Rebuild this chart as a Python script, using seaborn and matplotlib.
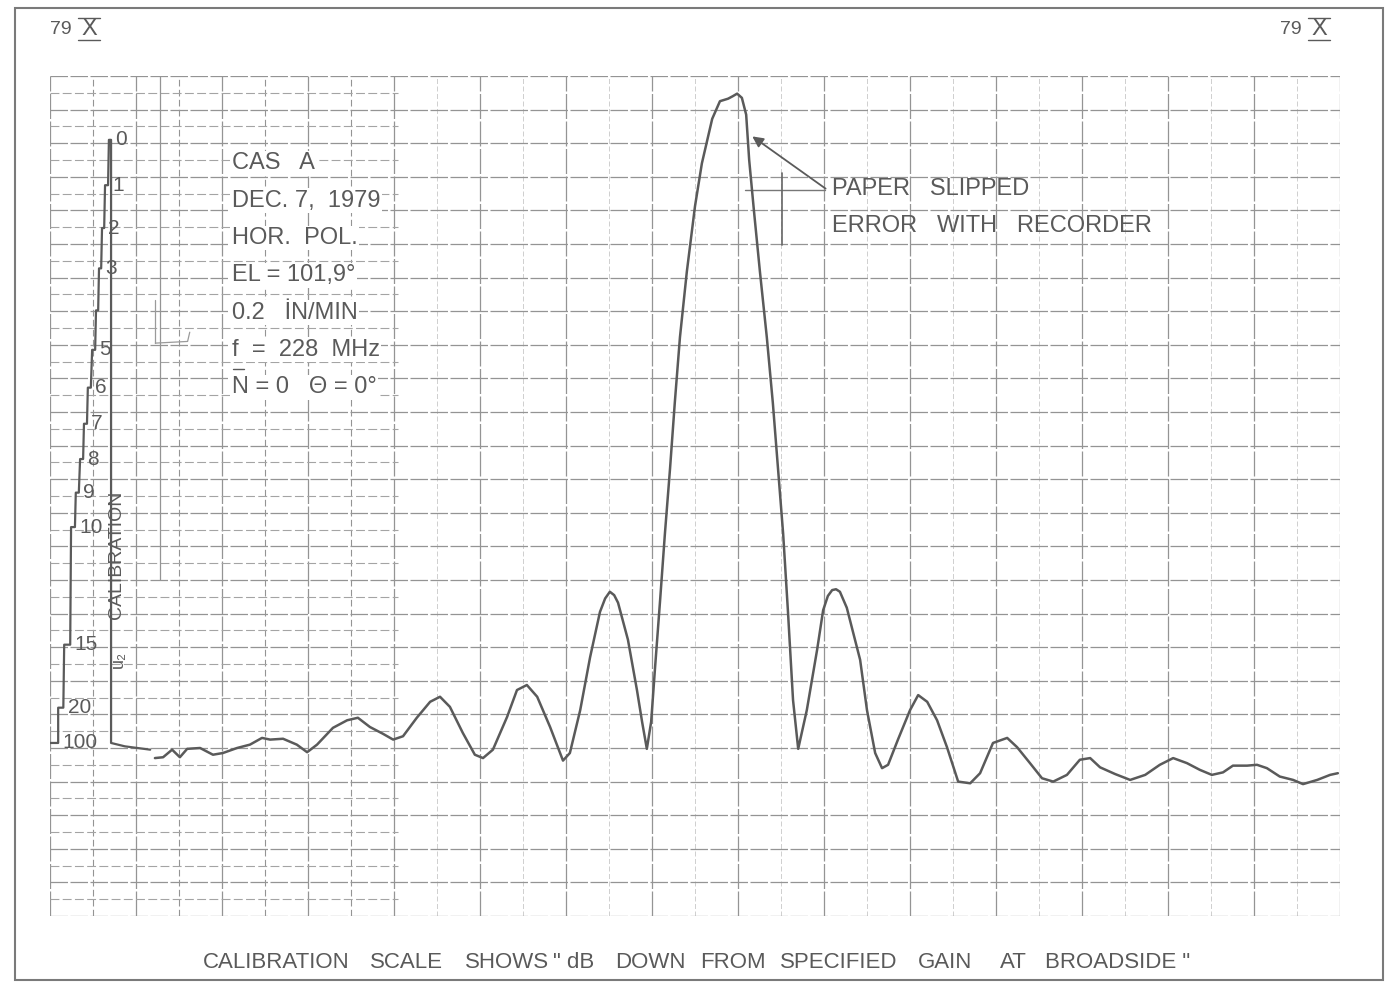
import numpy as np
import pandas as pd
import matplotlib
matplotlib.use("Agg")
import matplotlib.pyplot as plt
import seaborn as sns
from matplotlib.lines import Line2D
from matplotlib.patches import Rectangle

# chart position in minor divisions (0..30) and pen deflection in % of full scale
trace_x = [2.44, 2.63, 2.84, 3.02, 3.19, 3.49, 3.79, 4.02, 4.35, 4.65, 4.93, 5.12,
           5.42, 5.74, 5.98, 6.21, 6.58, 6.91, 7.16, 7.44, 7.74, 7.98, 8.21, 8.53,
           8.84, 9.07, 9.30, 9.60, 9.88, 10.07, 10.30, 10.63, 10.86, 11.09, 11.33,
           11.63, 11.93, 12.09, 12.33, 12.56, 12.79, 12.91, 13.02, 13.12, 13.21, 13.44, 13.65,
           13.77, 13.88, 13.98, 14.07, 14.19, 14.30, 14.42, 14.53, 14.65, 14.81,
           15.00, 15.16, 15.40, 15.58, 15.77, 15.88, 15.98, 16.09, 16.19, 16.26,
           16.37, 16.51, 16.67, 16.81, 16.93, 17.05, 17.16, 17.28, 17.40, 17.60,
           17.84, 17.98, 18.09, 18.19, 18.28, 18.37, 18.53, 18.84, 19.00, 19.19, 19.35, 19.49,
           19.72, 20.00, 20.19, 20.40, 20.63, 20.86, 21.12, 21.40, 21.63, 21.93,
           22.26, 22.49, 22.79, 23.07, 23.33, 23.65, 23.95, 24.19, 24.42, 24.77,
           25.12, 25.47, 25.81, 26.12, 26.44, 26.74, 27.02, 27.28, 27.51, 27.84,
           28.07, 28.30, 28.60, 28.91, 29.14, 29.47, 29.77, 29.95]
trace_y = [18.8, 18.9, 19.8, 18.9, 19.9, 20.0, 19.2, 19.4, 20.0, 20.4, 21.2, 21.0,
           21.1, 20.4, 19.5, 20.4, 22.4, 23.3, 23.6, 22.5, 21.7, 21.0, 21.4, 23.6,
           25.5, 26.1, 24.9, 21.8, 19.2, 18.8, 19.8, 23.7, 26.9, 27.5, 26.1,
           22.5, 18.5, 19.4, 24.5, 30.8, 36.2, 37.8, 38.6, 38.2, 37.3, 32.9, 26.9,
           23.1, 19.9, 23.1, 29.5, 37.7, 45.5, 53.3, 61.1, 68.9, 76.7,
           84.5, 89.6, 94.9, 97.0, 97.3, 97.6, 97.9, 97.4, 95.4, 90.0,
           84.0, 76.7, 68.9, 61.1, 53.3, 45.5, 36.4, 25.7, 19.9, 24.5,
           31.7, 36.4, 38.1, 38.8, 38.9, 38.6, 36.7, 30.5, 24.5, 19.4, 17.6, 18.0,
           21.0, 24.5, 26.3, 25.5, 23.3, 20.1, 16.0, 15.8, 17.0, 20.6,
           21.2, 20.1, 18.2, 16.4, 16.0, 16.8, 18.6, 18.8, 17.7, 16.9,
           16.2, 16.8, 18.0, 18.8, 18.2, 17.4, 16.8, 17.1, 17.9, 17.9,
           18.0, 17.6, 16.6, 16.2, 15.7, 16.2, 16.8, 17.0]

# calibration staircase: dB level, pen deflection, hold start / end
cal_db = [100, 20, 15, 10, 9, 8, 7, 6, 5, 4, 3, 2, 1, 0]
cal_y = [20.6, 24.8, 32.3, 46.3, 50.4, 54.4, 58.6, 62.9, 67.4, 72.1, 77.1, 81.9, 87.0, 92.4]
cal_on = [0.00, 0.19, 0.33, 0.49, 0.60, 0.70, 0.79, 0.88, 0.98, 1.07, 1.14, 1.21, 1.28, 1.37]
cal_off = [0.19, 0.31, 0.47, 0.58, 0.67, 0.77, 0.86, 0.95, 1.05, 1.12, 1.19, 1.26, 1.35, 1.42]
cal_return_x = [1.42, 1.74, 2.33]
cal_return_y = [20.6, 20.2, 19.8]

info_lines = ["CAS   A", "DEC. 7,  1979", "HOR.  POL.", "EL = 101,9°",
              "0.2   İN/MIN", "f  =  228  MHz", "N = 0   Θ = 0°"]
note_lines = ["PAPER   SLIPPED", "ERROR   WITH   RECORDER"]
caption_words = ["CALIBRATION", "SCALE", "SHOWS", '" dB', "DOWN", "FROM",
                 "SPECIFIED", "GAIN", "AT", 'BROADSIDE "']
caption_px = [203, 370, 465, 553, 615, 700, 780, 918, 1000, 1045]

INK = "#5a5a5a"
GRID = "#949494"
W, H = 1387, 985

sns.set_theme(style="white")
plt.rcParams["font.family"] = ["Liberation Sans", "DejaVu Sans"]

fig = plt.figure(figsize=(W / 100, H / 100), dpi=100)
fig.patch.set_facecolor("white")
ax = fig.add_axes([50 / W, (H - 916) / H, 1290 / W, 840 / H])
ax.set_xlim(0, 30)
ax.set_ylim(0, 100)
for s in ax.spines.values():
    s.set_visible(False)
ax.set_xticks([])
ax.set_yticks([])

# chart paper grid
for xv in np.arange(0, 31, 2):
    ax.axvline(xv, color=GRID, lw=0.9, ls=(0, (20, 2)), zorder=1)
for xv in np.arange(1, 30, 2):
    left = xv < 8.5
    ax.axvline(xv, color=GRID if left else "#c8c8c8", lw=0.8 if left else 0.6,
               ls=(0, (6, 3)), zorder=1)
for yv in np.arange(0, 101, 4):
    ax.axhline(yv, color=GRID, lw=0.9, ls=(0, (14, 2)), zorder=1)
ax.hlines(np.arange(2, 100, 4), 0, 8.1, color="#a4a4a4", lw=0.8, ls=(0, (8, 3)), zorder=1)
ax.vlines(2.56, 40, 100, color=GRID, lw=0.9, zorder=1)
ax.plot([2.45, 3.2, 3.25], [68.2, 68.4, 69.5], color="#9a9a9a", lw=0.9)
ax.plot([2.45, 2.45], [68.2, 73.3], color="#9a9a9a", lw=0.9)

# calibration staircase
sx, sy = [], []
for on, off, yv in zip(cal_on, cal_off, cal_y):
    sx += [on, off]
    sy += [yv, yv]
sx += cal_return_x
sy += cal_return_y
steps = pd.DataFrame({"x": sx, "y": sy})
sns.lineplot(data=steps, x="x", y="y", sort=False, estimator=None, ax=ax,
             color=INK, lw=1.6, zorder=3)
for db, yv, off in zip(cal_db, cal_y, cal_off):
    if db == 4:
        continue
    ax.text(off + 0.1, yv, str(db), ha="left", va="center", fontsize=15,
            color=INK, zorder=4)
ax.text(1.55, 43.0, "CALIBRATION", rotation=90, ha="center", va="center",
        fontsize=14, color=INK)
ax.text(1.58, 30.5, "u₂", rotation=90, ha="center", va="center",
        fontsize=13, color=INK)

# antenna pattern trace
pattern = pd.DataFrame({"x": trace_x, "y": trace_y})
sns.lineplot(data=pattern, x="x", y="y", sort=False, estimator=None, ax=ax,
             color=INK, lw=1.8, zorder=3)

# text block
for i, line in enumerate(info_lines):
    ax.text(4.23, 89.6 - i * 4.44, line, ha="left", va="center", fontsize=17,
            color=INK, bbox=dict(fc="white", ec="none", pad=1.0))
ax.plot([4.25, 4.50], [65.1, 65.1], color=INK, lw=1.0, zorder=5)

# paper slipped note
for i, line in enumerate(note_lines):
    ax.text(18.19, 86.5 - i * 4.4, line, ha="left", va="center", fontsize=17,
            color=INK)
ax.annotate("", xy=(16.28, 93.0), xytext=(18.09, 86.4),
            arrowprops=dict(arrowstyle="-|>", color=INK, lw=1.3, mutation_scale=16))
ax.plot([16.16, 18.02], [86.4, 86.4], color="#777777", lw=1.0)
ax.plot([17.02, 17.02], [88.5, 79.9], color="#666666", lw=1.2)

ax.set_xlabel("")
ax.set_ylabel("")

# sheet border, corner marks and caption
fig.add_artist(Rectangle((15 / W, 1 - 980 / H), 1368 / W, 972 / H, transform=fig.transFigure,
                         fill=False, ec="#7a7a7a", lw=1.5))
for x0 in (50, 1280):
    fig.text(x0 / W, 1 - 29 / H, "79", ha="left", va="center", fontsize=14, color=INK)
    fig.text((x0 + 39) / W, 1 - 29 / H, "X", ha="center", va="center", fontsize=17, color=INK)
    for yy in (18, 40):
        fig.add_artist(Line2D([(x0 + 28) / W, (x0 + 50) / W], [1 - yy / H, 1 - yy / H],
                              transform=fig.transFigure, color=INK, lw=1.0))
for word, px in zip(caption_words, caption_px):
    fig.text(px / W, 1 - 962 / H, word, ha="left", va="center", fontsize=16, color=INK)

fig.savefig("out.png", dpi=100, facecolor="white")
